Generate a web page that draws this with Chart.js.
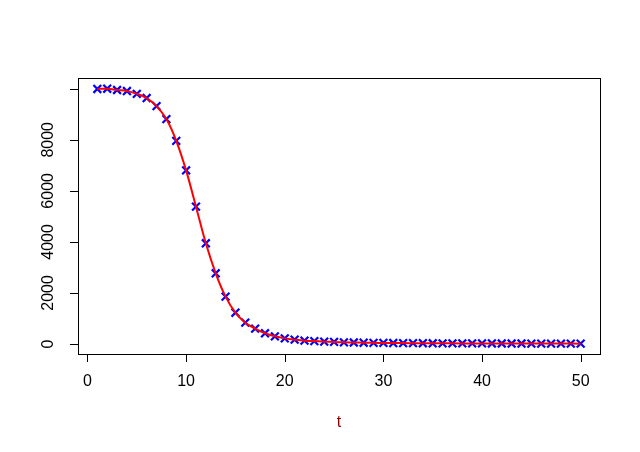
<!DOCTYPE html>
<html>
<head>
<meta charset="utf-8">
<script src="https://cdn.jsdelivr.net/npm/chart.js@4"></script>
<style>
html,body{margin:0;padding:0;background:#fff;}
#wrap{width:640px;height:452px;}
</style>
</head>
<body>
<div id="wrap"><canvas id="c" width="640" height="452"></canvas></div>
<script>
const tValues = [1,2,3,4,5,6,7,8,9,10,11,12,13,14,15,16,17,18,19,20,21,22,23,24,25,26,27,28,29,30,31,32,33,34,35,36,37,38,39,40,41,42,43,44,45,46,47,48,49,50];
const nValues = [9990,10000,9950,9910,9800,9635,9320,8810,7960,6800,5380,3945,2770,1855,1225,835,605,420,300,220,170,130,115,90,80,65,58,50,45,42,38,35,33,30,28,26,25,24,22,21,20,19,18,18,17,16,16,15,15,14];
const xTicks = [0,10,20,30,40,50];
const yTicks = [0,2000,4000,6000,8000,10000];
const yTickLabels = ['0','2000','4000','6000','8000',''];
const xTitle = 't';

const pts = tValues.map((t,i)=>({x:t,y:nValues[i]}));
const FONT = '16px "Liberation Sans", Arial, sans-serif';

const rAxes = {
  id:'rAxes',
  afterDraw(chart){
    const ctx = chart.ctx, a = chart.chartArea;
    const xs = chart.scales.x, ys = chart.scales.y;
    ctx.save();
    ctx.strokeStyle = '#000'; ctx.lineWidth = 1;
    ctx.strokeRect(Math.round(a.left)+0.5, Math.round(a.top)+0.5, Math.round(a.right-a.left), Math.round(a.bottom-a.top));
    ctx.beginPath();
    xTicks.forEach(v=>{const px=Math.round(xs.getPixelForValue(v))+0.5; ctx.moveTo(px,Math.round(a.bottom)); ctx.lineTo(px,Math.round(a.bottom)+8);});
    yTicks.forEach(v=>{const py=Math.round(ys.getPixelForValue(v))+0.5; ctx.moveTo(Math.round(a.left),py); ctx.lineTo(Math.round(a.left)-8,py);});
    ctx.stroke();
    ctx.fillStyle = '#000'; ctx.font = FONT;
    ctx.textAlign='center'; ctx.textBaseline='middle';
    xTicks.forEach(v=>{ctx.fillText(String(v), xs.getPixelForValue(v), a.bottom+28);});
    yTicks.forEach((v,i)=>{
      const lab = yTickLabels[i]; if(!lab) return;
      ctx.save();
      ctx.translate(a.left-29, ys.getPixelForValue(v));
      ctx.rotate(-Math.PI/2);
      ctx.fillText(lab,0,0);
      ctx.restore();
    });
    ctx.fillStyle = '#8B0000';
    ctx.fillText(xTitle,(a.left+a.right)/2, a.bottom+69);
    ctx.restore();
  }
};

new Chart(document.getElementById('c'),{
  type:'scatter',
  data:{datasets:[
    {label:'fit', data:pts, showLine:true, borderColor:'#FF0000', borderWidth:2, pointRadius:0, cubicInterpolationMode:'monotone', order:0, fill:false},
    {label:'obs', data:pts, showLine:false, pointStyle:'crossRot', pointRadius:5.5, pointBorderWidth:2.2, borderColor:'#0000FF', backgroundColor:'#0000FF', order:1}
  ]},
  options:{
    responsive:false, animation:false, devicePixelRatio:1,
    layout:{padding:{top:78,right:40,bottom:0,left:0}},
    plugins:{legend:{display:false}, tooltip:{enabled:false}},
    scales:{
      x:{type:'linear', min:-0.96, max:51.96,
         afterBuildTicks:s=>{s.ticks = xTicks.map(v=>({value:v}));},
         afterFit:s=>{s.height=98;},
         ticks:{display:false}, grid:{display:false}, border:{display:false}},
      y:{type:'linear', min:-392, max:10420,
         afterBuildTicks:s=>{s.ticks = yTicks.map(v=>({value:v}));},
         afterFit:s=>{s.width=78;},
         ticks:{display:false}, grid:{display:false}, border:{display:false}}
    }
  },
  plugins:[rAxes]
});
</script>
</body>
</html>
